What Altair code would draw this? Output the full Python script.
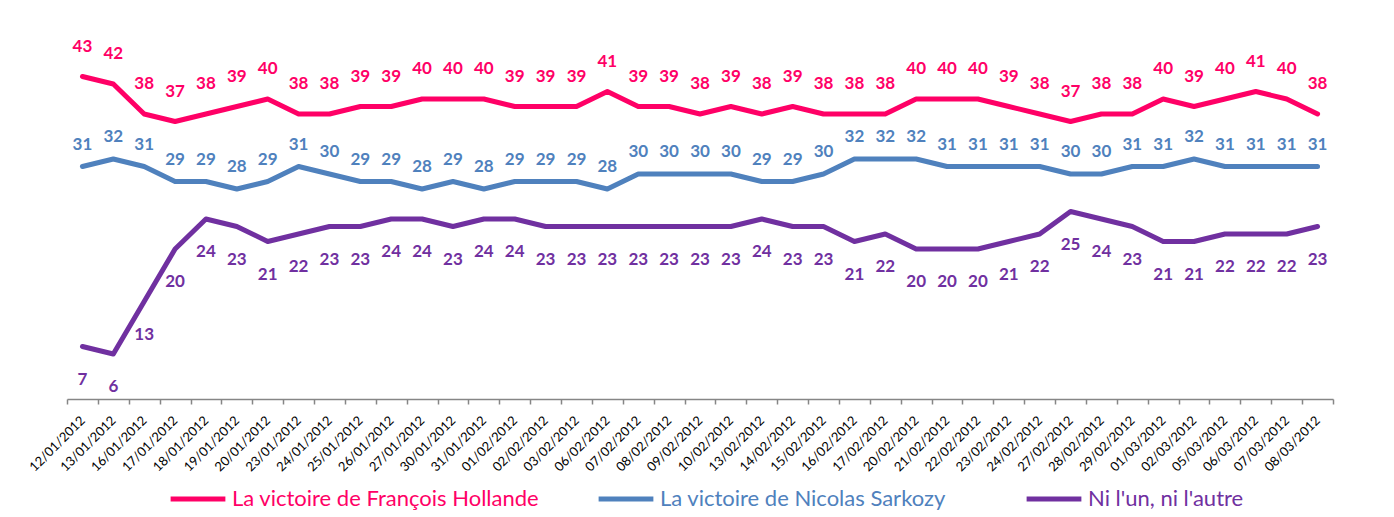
import altair as alt
import pandas as pd

dates = ["12/01/2012", "13/01/2012", "16/01/2012", "17/01/2012", "18/01/2012", "19/01/2012",
         "20/01/2012", "23/01/2012", "24/01/2012", "25/01/2012", "26/01/2012", "27/01/2012",
         "30/01/2012", "31/01/2012", "01/02/2012", "02/02/2012", "03/02/2012", "06/02/2012",
         "07/02/2012", "08/02/2012", "09/02/2012", "10/02/2012", "13/02/2012", "14/02/2012",
         "15/02/2012", "16/02/2012", "17/02/2012", "20/02/2012", "21/02/2012", "22/02/2012",
         "23/02/2012", "24/02/2012", "27/02/2012", "28/02/2012", "29/02/2012", "01/03/2012",
         "02/03/2012", "05/03/2012", "06/03/2012", "07/03/2012", "08/03/2012"]

hollande = [43, 42, 38, 37, 38, 39, 40, 38, 38, 39, 39, 40, 40, 40, 39, 39, 39, 41, 39, 39, 38,
            39, 38, 39, 38, 38, 38, 40, 40, 40, 39, 38, 37, 38, 38, 40, 39, 40, 41, 40, 38]
sarkozy = [31, 32, 31, 29, 29, 28, 29, 31, 30, 29, 29, 28, 29, 28, 29, 29, 29, 28, 30, 30, 30,
           30, 29, 29, 30, 32, 32, 32, 31, 31, 31, 31, 30, 30, 31, 31, 32, 31, 31, 31, 31]
ni = [7, 6, 13, 20, 24, 23, 21, 22, 23, 23, 24, 24, 23, 24, 24, 23, 23, 23, 23, 23, 23,
      23, 24, 23, 23, 21, 22, 20, 20, 20, 21, 22, 25, 24, 23, 21, 21, 22, 22, 22, 23]

series_names = ["La victoire de François Hollande", "La victoire de Nicolas Sarkozy", "Ni l'un, ni l'autre"]
series_colors = ["#FF0066", "#4F81BD", "#7030A0"]
label_dy = [-30, -22, 33]

rows = []
for name, vals in zip(series_names, [hollande, sarkozy, ni]):
    for d, v in zip(dates, vals):
        rows.append({"date": d, "serie": name, "value": v})
df = pd.DataFrame(rows)

x = alt.X("date:O", sort=dates,
          scale=alt.Scale(type="band", paddingInner=0, paddingOuter=0),
          axis=alt.Axis(title=None, labelAngle=-45, labelAlign="right", labelBaseline="middle",
                        tickBand="extent", domainColor="#868686", domainWidth=1.5,
                        tickColor="#868686", tickWidth=1.5, tickSize=5, labelPadding=14,
                        labelFont="Lato", labelFontSize=13, labelColor="#000000", grid=False))
y = alt.Y("value:Q", scale=alt.Scale(domain=[0, 50]), axis=None)

color_expr = ("datum.value == '%s' ? '%s' : (datum.value == '%s' ? '%s' : '%s')"
              % (series_names[0].replace("'", "\\'"), series_colors[0],
                 series_names[1].replace("'", "\\'"), series_colors[1], series_colors[2]))

color = alt.Color("serie:N",
                  scale=alt.Scale(domain=series_names, range=series_colors),
                  sort=series_names,
                  legend=alt.Legend(title=None, orient="none", direction="horizontal",
                                    legendX=101, legendY=445, columns=3, gridAlign="all",
                                    symbolType="stroke", symbolSize=3000, symbolStrokeWidth=5,
                                    labelFont="Lato", labelFontSize=22,
                                    labelColor={"expr": color_expr},
                                    columnPadding=48, labelOffset=4, labelLimit=500))

lines = alt.Chart(df).mark_line(strokeWidth=5, strokeCap="round", strokeJoin="round").encode(
    x=x, y=y, color=color)

layers = [lines]
for name, c, dy in zip(series_names, series_colors, label_dy):
    t = alt.Chart(df).transform_filter(alt.datum.serie == name).mark_text(
        dy=dy, font="Lato", fontSize=17, fontWeight="bold", color=c
    ).encode(x=x, y=y, text="value:Q")
    layers.append(t)

chart = alt.layer(*layers).properties(
    width=1266, height=375,
    padding={"left": 67, "top": 24, "right": 61, "bottom": 118},
    autosize=alt.AutoSizeParams(type="none"),
    background="white"
).configure_view(stroke=None)

chart.save("out.html", embed_options={"renderer": "svg", "actions": False})
